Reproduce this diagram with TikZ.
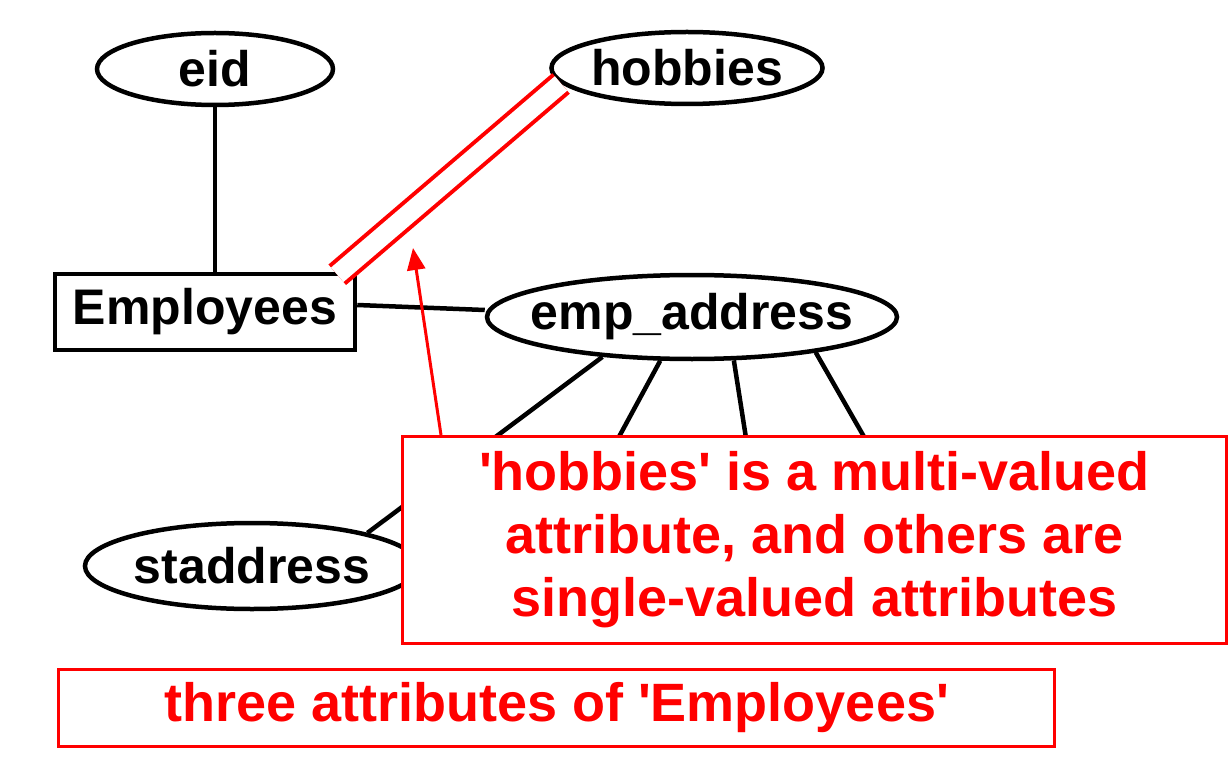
\documentclass[tikz,border=0pt]{standalone}
\usepackage{fontspec}
\setmainfont{Liberation Sans}
\usetikzlibrary{shapes.geometric,arrows.meta}

\newcommand{\sq}{\textquotesingle}

\begin{document}
\begin{tikzpicture}[x=1pt, y=-1pt, line width=4.5pt,
	attr/.style = {draw, ellipse, inner sep=0pt, font=\fontsize{50}{60}\selectfont\bfseries},
	entity/.style = {draw, rectangle, inner sep=0pt, minimum width=300pt, minimum height=76pt, font=\fontsize{50}{60}\selectfont\bfseries},
	note/.style = {draw=red, fill=white, line width=3pt, inner sep=0pt, text=red, align=center, font=\fontsize{54}{63}\selectfont\bfseries}]
	\useasboundingbox (0,0) rectangle (1230,767);
	% entity and its attributes
	\node[entity] (emp) at (205,312) {Employees};
	\node[attr, minimum width=236pt, minimum height=72pt] (eid) at (215,69) {eid};
	\node[attr, minimum width=270pt, minimum height=72pt] (hob) at (687,68) {hobbies};
	\node[attr, inner xsep=-17pt, minimum width=410pt, minimum height=84pt] (addr) at (692,317) {emp\_address};
	\node[attr, minimum width=330pt, minimum height=86pt] (st) at (252,566) {staddress};
	% hidden ends of the other parts of emp_address
	\coordinate (c2) at (601,470);
	\coordinate (c3) at (751,470);
	\coordinate (c4) at (883,470);
	% connectors
	\draw (eid.south) -- (eid.south |- emp.north);
	\draw ([yshift=7pt]emp.east) -- ([yshift=7pt]addr.west);
	\draw (addr.204) -- (st.16);
	\draw (addr.234) -- (c2);
	\draw (addr.314) -- (c3);
	\draw (addr.344) -- (c4);
	\draw[red, line width=4pt, double=white, double distance=19pt] ([xshift=-20pt,yshift=-3pt]emp.north east) -- (hob.187);
	% notes
	\node[note, minimum width=824pt, minimum height=207pt] (note) at (814.5,540) {\sq hobbies\sq\ is a multi-valued\\attribute, and others are\\single-valued attributes};
	\node[note, minimum width=996pt, minimum height=77pt] (cap) at (556.5,708) {three attributes of \sq Employees\sq};
	\coordinate (tip) at (413,248);
	\draw[red, line width=3pt, -{Triangle[length=22pt,width=18pt]}] ([xshift=40pt]note.north west) -- (tip);
\end{tikzpicture}
\end{document}
